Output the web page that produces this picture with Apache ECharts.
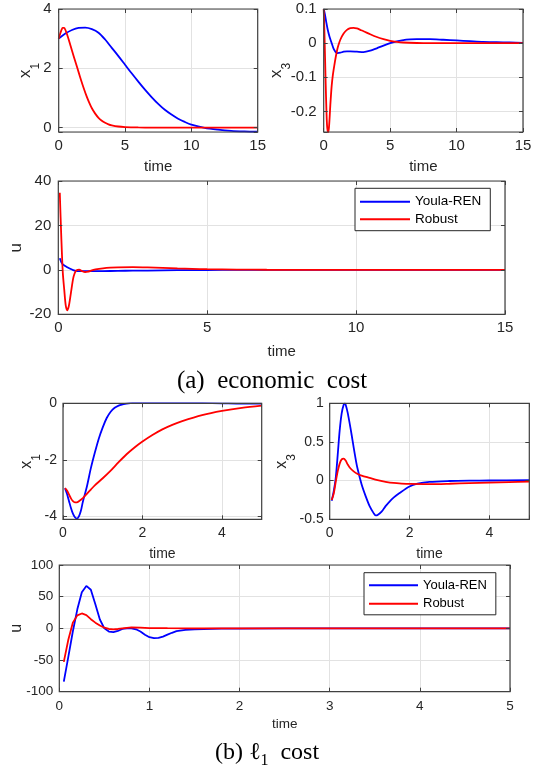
<!DOCTYPE html>
<html><head><meta charset="utf-8">
<script src="https://cdn.jsdelivr.net/npm/echarts@6/dist/echarts.min.js"></script>
<style>html,body{margin:0;padding:0;background:#fff}#c{width:544px;height:772px}</style>
</head><body><div id="c"></div>
<script>
// ---------------- DATA ----------------
// (a) economic cost, x1
const t_a_x1_youla = [0,0.5,1,1.5,2,2.5,3,3.5,4,4.5,5,5.5,6,6.5,7,7.5,8,8.5,9,9.5,10,11,12,13,14,15];
const a_x1_youla   = [3.0,3.17,3.29,3.36,3.37,3.32,3.2,2.97,2.69,2.41,2.12,1.83,1.55,1.28,1.03,0.8,0.6,0.44,0.3,0.19,0.1,-0.01,-0.07,-0.11,-0.13,-0.14];
const t_a_x1_robust = [0,0.1,0.2,0.3,0.4,0.5,0.7,0.9,1.1,1.3,1.5,1.7,1.9,2.1,2.3,2.5,2.75,3,3.25,3.5,3.75,4,4.5,5,5.5,6,7,8,10,12,15];
const a_x1_robust   = [3.0,3.15,3.28,3.36,3.36,3.3,3.05,2.75,2.45,2.16,1.87,1.58,1.31,1.06,0.84,0.65,0.47,0.33,0.23,0.16,0.11,0.075,0.035,0.015,0.007,0.003,0,0,0,0,0];
// (a) economic cost, x3
const t_a_x3_youla = [0,0.1,0.2,0.3,0.45,0.6,0.75,0.9,1.05,1.25,1.5,1.75,2,2.5,3,3.5,4,4.5,5,5.5,6,6.5,7,7.5,8,9,10,11,12,13,14,15];
const a_x3_youla   = [0.1,0.083,0.06,0.04,0.017,0.0,-0.017,-0.026,-0.029,-0.028,-0.025,-0.024,-0.024,-0.025,-0.026,-0.022,-0.015,-0.007,0.0,0.005,0.009,0.011,0.012,0.012,0.012,0.010,0.008,0.006,0.004,0.003,0.002,0.001];
const t_a_x3_robust = [0,0.05,0.1,0.15,0.2,0.25,0.3,0.35,0.4,0.45,0.5,0.6,0.7,0.8,0.9,1.0,1.1,1.25,1.5,1.75,2,2.25,2.5,2.75,3,3.5,4,4.5,5,5.5,6,7,8,10,12,15];
const a_x3_robust   = [0.1,0.04,-0.04,-0.12,-0.19,-0.24,-0.257,-0.26,-0.245,-0.215,-0.18,-0.125,-0.09,-0.065,-0.042,-0.022,-0.007,0.01,0.028,0.039,0.044,0.045,0.043,0.039,0.035,0.026,0.018,0.012,0.007,0.004,0.002,0.0005,0,0,0,0];
// (a) economic cost, u
const t_a_u_youla = [0.05,0.1,0.15,0.2,0.3,0.4,0.5,0.6,0.7,0.8,1,1.5,2,2.5,3,4,5,6,8,10,15];
const a_u_youla   = [5.2,3.5,2.5,2.0,1.2,0.5,-0.1,-0.5,-0.6,-0.6,-0.6,-0.55,-0.45,-0.35,-0.3,-0.15,-0.05,0,0,0,0];
const t_a_u_robust = [0.05,0.1,0.15,0.2,0.25,0.3,0.35,0.4,0.45,0.5,0.55,0.6,0.65,0.7,0.8,0.9,1.0,1.1,1.25,1.5,1.75,2,2.5,3,3.5,4,4.5,5,6,7,8,10,15];
const a_u_robust   = [34.7,15,-1,-9,-16,-18.2,-16.5,-12.5,-8,-3.8,-1.5,-0.3,0,0.1,-0.6,-1.0,-0.8,-0.3,0.2,0.7,1.0,1.15,1.2,1.1,0.9,0.65,0.45,0.3,0.15,0.05,0,0,0];
// (b) l1 cost, x1
const t_b_x1_youla = [0.05,0.1,0.15,0.2,0.25,0.3,0.35,0.4,0.45,0.5,0.6,0.7,0.8,0.9,1.0,1.1,1.2,1.3,1.4,1.5,1.6,1.8,2,2.5,3,3.5,4,4.5,5];
const b_x1_youla   = [-3.0,-3.2,-3.45,-3.7,-3.9,-4.03,-4.08,-4.0,-3.8,-3.48,-2.95,-2.3,-1.75,-1.25,-0.85,-0.52,-0.3,-0.16,-0.08,-0.04,-0.01,0.02,0.03,0.03,0.02,0.01,0.0,-0.01,-0.01];
const t_b_x1_robust = [0.05,0.1,0.15,0.2,0.25,0.3,0.35,0.4,0.5,0.6,0.7,0.8,1.0,1.2,1.4,1.6,1.8,2,2.25,2.5,2.75,3,3.5,4,4.5,5];
const b_x1_robust   = [-3.0,-3.08,-3.22,-3.36,-3.46,-3.5,-3.5,-3.46,-3.35,-3.2,-3.05,-2.9,-2.65,-2.38,-2.08,-1.8,-1.56,-1.35,-1.12,-0.92,-0.76,-0.63,-0.42,-0.27,-0.16,-0.085];
// (b) l1 cost, x3
const t_b_x3_youla = [0.05,0.1,0.15,0.2,0.25,0.3,0.35,0.38,0.4,0.45,0.5,0.55,0.6,0.66,0.7,0.8,0.9,1.0,1.1,1.15,1.2,1.3,1.4,1.5,1.6,1.75,2,2.2,2.5,3,3.5,4,5];
const b_x3_youla   = [-0.26,-0.14,0.03,0.33,0.65,0.87,0.98,1.0,0.98,0.88,0.74,0.59,0.43,0.25,0.15,-0.05,-0.2,-0.33,-0.42,-0.45,-0.445,-0.4,-0.33,-0.27,-0.22,-0.16,-0.075,-0.04,-0.017,-0.005,0,0.002,0.005];
const t_b_x3_robust = [0.05,0.1,0.15,0.2,0.25,0.3,0.35,0.4,0.45,0.5,0.6,0.7,0.8,1.0,1.2,1.4,1.6,1.8,2,2.5,3,3.5,4,4.5,5];
const b_x3_robust   = [-0.25,-0.17,-0.02,0.12,0.22,0.275,0.285,0.26,0.21,0.17,0.12,0.085,0.065,0.035,0.005,-0.015,-0.03,-0.038,-0.043,-0.045,-0.04,-0.032,-0.025,-0.019,-0.014];
// (b) l1 cost, u
const t_b_u_youla = [0.05,0.1,0.15,0.2,0.25,0.3,0.35,0.4,0.45,0.5,0.55,0.6,0.65,0.7,0.75,0.8,0.85,0.9,0.95,1.0,1.05,1.1,1.15,1.2,1.25,1.3,1.4,1.5,1.6,1.8,2,2.5,3,4,5];
const b_u_youla   = [-84,-45,-5,30,57,67,61,38,14,0,-5,-6,-4,-1,0,0,-1.5,-5,-10,-14,-15.5,-15,-13,-10,-7,-4.5,-2.5,-1.5,-1,-0.5,-0.3,0,0,0,0];
const t_b_u_robust = [0.05,0.1,0.15,0.2,0.25,0.3,0.35,0.4,0.45,0.5,0.55,0.6,0.65,0.7,0.8,0.9,1.0,1.2,1.5,2,3,4,5];
const b_u_robust   = [-53,-18,9,20.5,23.5,21,14.5,9,4.5,1,-1,-1.6,-1,0,1.5,1.0,0.5,0.2,0,0,0,0,0];

const seriesNames = ['Youla-REN', 'Robust'];
const xAxisTitle = 'time';
const captionA = '(a)  economic  cost';

// ---------------- LAYOUT / STYLE ----------------
const FONT = '"Liberation Sans", Arial, Helvetica, sans-serif';
const SERIF = '"Liberation Serif", "Times New Roman", serif';
const TXT = '#262626', BOX = '#404040', GRIDC = '#e2e2e2';
const COLORS = ['#0000ff', '#ff0000'];

const layout = [
  {left:58.7, top:9, width:199, height:123},
  {left:323.7, top:9, width:199.3, height:123},
  {left:58.3, top:181, width:446.7, height:133.3},
  {left:63, top:403.3, width:198.7, height:116},
  {left:329.7, top:403.3, width:199.6, height:116},
  {left:59.3, top:565, width:450.7, height:126.7}
];
const cfg = [
  {x:{min:0,max:15,interval:5}, y:{min:-0.15,max:4,step:2}, yname:['x','1'], font:15, nameFont:17, xGap:27, yGap:17, xm:6, ym:7, smooth:0.3,
   d:[[t_a_x1_youla,a_x1_youla],[t_a_x1_robust,a_x1_robust]]},
  {x:{min:0,max:15,interval:5}, y:{min:-0.26,max:0.1,step:0.1}, yname:['x','3'], font:15, nameFont:17, xGap:27, yGap:31, xm:6, ym:7, smooth:0.25,
   d:[[t_a_x3_youla,a_x3_youla],[t_a_x3_robust,a_x3_robust]]},
  {x:{min:0,max:15,interval:5}, y:{min:-20,max:40,interval:20}, yname:['u'], font:15, nameFont:17, xGap:30, yGap:33, xm:6, ym:7, smooth:0.3,
   d:[[t_a_u_youla,a_u_youla],[t_a_u_robust,a_u_robust]]},
  {x:{min:0,max:5,interval:2,hideMax:true}, y:{min:-4.1,max:0,step:2}, yname:['x','1'], font:14, nameFont:16, xGap:28, yGap:20, xm:7, ym:6, smooth:0.3,
   d:[[t_b_x1_youla,b_x1_youla],[t_b_x1_robust,b_x1_robust]]},
  {x:{min:0,max:5,interval:2,hideMax:true}, y:{min:-0.5,max:1,interval:0.5}, yname:['x','3'], font:14, nameFont:16, xGap:28, yGap:32, xm:7, ym:6, smooth:0.3,
   d:[[t_b_x3_youla,b_x3_youla],[t_b_x3_robust,b_x3_robust]]},
  {x:{min:0,max:5,interval:1}, y:{min:-100,max:100,interval:50}, yname:['u'], font:13.5, nameFont:16, xGap:26, yGap:35, xm:8, ym:6, smooth:false,
   d:[[t_b_u_youla,b_u_youla],[t_b_u_robust,b_u_robust]]}
];

function scaleOpts(s){
  const o = {min:s.min, max:s.max};
  if (s.interval != null) o.interval = s.interval;
  else { o.minInterval = s.step; o.maxInterval = s.step; }
  return o;
}

const grids = [], xAxes = [], yAxes = [], series = [], graphic = [];
layout.forEach((g, i) => {
  const c = cfg[i];
  grids.push({left:g.left, top:g.top, width:g.width, height:g.height, containLabel:false, outerBoundsMode:'none'});
  const xs = scaleOpts(c.x), ys = scaleOpts(c.y);
  const xMain = xAxes.length, yMain = yAxes.length;
  xAxes.push(Object.assign({type:'value', gridIndex:i, position:'bottom', z:1,
    axisLine:{show:false, onZero:false}, axisTick:{show:false},
    splitLine:{show:true, lineStyle:{color:GRIDC, width:1}},
    axisLabel:{show:true, margin:c.xm, fontSize:c.font, color:TXT, fontFamily:FONT, showMaxLabel: c.x.hideMax ? false : null},
    name:xAxisTitle, nameLocation:'middle', nameGap:c.xGap, nameMoveOverlap:false,
    nameTextStyle:{fontSize:c.font, color:TXT, fontFamily:FONT}}, xs));
  ['bottom','top'].forEach(pos => xAxes.push(Object.assign({type:'value', gridIndex:i, position:pos, z:3,
    axisLine:{show:false, onZero:false}, axisLabel:{show:false}, splitLine:{show:false},
    axisTick:{show:true, inside:true, length:4, lineStyle:{color:BOX, width:1}}}, xs)));
  const yn = c.yname.length > 1 ? `{a|${c.yname[0]}}{b|${c.yname[1]}}` : `{a|${c.yname[0]}}`;
  const sub = Math.round(c.nameFont*0.72);
  yAxes.push(Object.assign({type:'value', gridIndex:i, position:'left', z:1,
    axisLine:{show:false, onZero:false}, axisTick:{show:false},
    splitLine:{show:true, lineStyle:{color:GRIDC, width:1}},
    axisLabel:{show:true, margin:c.ym, fontSize:c.font, color:TXT, fontFamily:FONT, showMinLabel: c.y.step != null ? false : null},
    name:yn, nameLocation:'middle', nameGap:c.yGap, nameRotate:90, nameMoveOverlap:false,
    nameTextStyle:{color:TXT, fontFamily:FONT, fontSize:c.nameFont, rich:{
      a:{fontSize:c.nameFont, lineHeight:c.nameFont, verticalAlign:'top', color:TXT, fontFamily:FONT},
      b:{fontSize:sub, lineHeight:Math.round(c.nameFont*1.47), verticalAlign:'bottom', color:TXT, fontFamily:FONT}
    }}}, ys));
  ['left','right'].forEach(pos => yAxes.push(Object.assign({type:'value', gridIndex:i, position:pos, z:3,
    axisLine:{show:false, onZero:false}, axisLabel:{show:false}, splitLine:{show:false},
    axisTick:{show:true, inside:true, length:4, lineStyle:{color:BOX, width:1}}}, ys)));
  c.d.forEach((pair, k) => {
    series.push({type:'line', name:seriesNames[k], xAxisIndex:xMain, yAxisIndex:yMain,
      data:pair[0].map((t, j) => [t, pair[1][j]]), symbol:'none', showSymbol:false,
      smooth:c.smooth, color:COLORS[k], lineStyle:{color:COLORS[k], width:1.8}, itemStyle:{color:COLORS[k]},
      z:2, clip:true});
  });
  graphic.push({type:'rect', z:50, silent:true,
    shape:{x:g.left, y:g.top, width:g.width, height:g.height},
    style:{fill:'none', stroke:BOX, lineWidth:1.2}});
});

graphic.push({type:'text', z:60, silent:true, x:272, y:381,
  style:{text:captionA, font:'25px ' + SERIF, fontSize:25, fontFamily:SERIF, fill:'#000',
    align:'center', textAlign:'center', verticalAlign:'middle', textVerticalAlign:'middle'}});
graphic.push({type:'text', z:60, silent:true, x:267, y:755,
  style:{text:'{m|(b) }{m|ℓ}{s|1}{m|  cost}', fill:'#000', fontFamily:SERIF, fontSize:24,
    align:'center', textAlign:'center', verticalAlign:'middle', textVerticalAlign:'middle',
    rich:{
      m:{fontSize:24, lineHeight:24, fontFamily:SERIF, fill:'#000', verticalAlign:'top'},
      s:{fontSize:16, lineHeight:28, fontFamily:SERIF, fill:'#000', verticalAlign:'bottom'}
    }}});

const legendBase = {orient:'vertical', icon:'rect', itemHeight:2, itemGap:0, selectedMode:false,
  borderColor:'#262626', borderWidth:1, backgroundColor:'#fff', borderRadius:0, z:20};
const legends = [
  Object.assign({}, legendBase, {data:seriesNames, left:355, top:188.3, itemWidth:50, padding:[4.6,9,2.6,5],
    textStyle:{fontSize:13.5, lineHeight:17.6, color:'#000', fontFamily:FONT}}),
  Object.assign({}, legendBase, {data:seriesNames, left:364, top:572.7, itemWidth:49, padding:[3.5,9,2,5],
    textStyle:{fontSize:13, lineHeight:18.3, color:'#000', fontFamily:FONT}})
];

const chart = echarts.init(document.getElementById('c'), null, {renderer:'canvas'});
chart.setOption({
  animation:false,
  backgroundColor:'#fff',
  grid:grids, xAxis:xAxes, yAxis:yAxes, series:series,
  legend:legends, graphic:graphic
});
</script></body></html>
